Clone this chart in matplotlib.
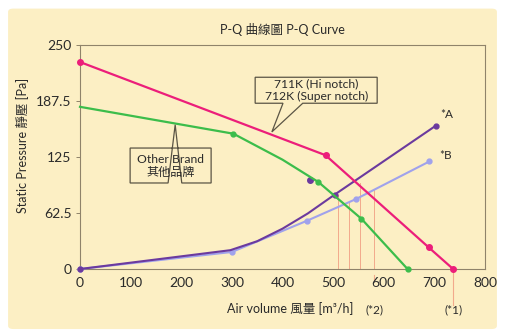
import matplotlib
matplotlib.use("Agg")
import matplotlib.pyplot as plt
from matplotlib.patches import FancyBboxPatch, Polygon

FONT = ['Lato', 'Noto Sans CJK TC', 'DejaVu Sans']
plt.rcParams['font.family'] = FONT

# --- data ---
brand_x = [0, 485, 689, 737]
brand_y = [231, 127, 24, 0]

other_x = [0, 303, 400, 471, 556, 647]
other_y = [181, 151, 122, 97, 56, 0]
other_marks = [1, 3, 4, 5]

curveA_x = [0, 297, 350, 400, 450, 503, 703]
curveA_y = [0, 21, 31, 45, 62, 83, 160]
curveA_marks = [0, 5, 6]
extraA = (454, 99)

curveB_x = [0, 300, 449, 545, 690]
curveB_y = [0, 19, 54, 78, 120]

guide_x = [509, 532, 554, 581]
guide_top = [83, 74, 96, 88]

xticks = [0, 100, 200, 300, 400, 500, 600, 700, 800]
yticks = [0, 62.5, 125, 187.5, 250]
ytick_labels = ['0', '62.5', '125', '187.5', '250']

PINK = '#EC1E7A'
GREEN = '#3CBD4B'
PURPLE = '#6B3A9E'
LBLUE = '#A0A2EC'
CREAM = '#FCEFC4'
EDGE = '#8F836A'
GUIDE = '#F2A98C'
TXT = '#2a2a2a'

fig = plt.figure(figsize=(5.05, 3.31), dpi=100)
fig.patch.set_facecolor('white')
bg = FancyBboxPatch((0.016, 0.006), 0.968, 0.968, boxstyle='round,pad=0,rounding_size=0.01',
                    transform=fig.transFigure, facecolor=CREAM, edgecolor='none', zorder=-10)
fig.patches.append(bg)

ax = fig.add_axes([80/505, 1-269/331, 405/505, 224/331])
ax.set_zorder(1)
ax.set_facecolor(CREAM)
ax.set_xlim(0, 800)
ax.set_ylim(0, 250)

for s in ax.spines.values():
    s.set_color(EDGE)
    s.set_linewidth(0.8)

# guide lines
for gx, gt in zip(guide_x, guide_top):
    ax.plot([gx, gx], [0, gt], color=GUIDE, lw=0.7, zorder=1)
ax.plot([brand_x[-1], brand_x[-1]], [0, -40], color=GUIDE, lw=0.8, clip_on=False, zorder=1)
ax.plot([guide_x[-1], guide_x[-1]], [-7, -12], color=GUIDE, lw=0.8, clip_on=False, zorder=1)

ax.plot(curveB_x, curveB_y, color=LBLUE, lw=1.5, marker='o', ms=3.5, zorder=3, clip_on=False)
ax.plot(curveA_x, curveA_y, color=PURPLE, lw=1.5, marker='o', ms=3.5,
        markevery=curveA_marks, zorder=4, clip_on=False)
ax.plot([extraA[0]], [extraA[1]], 'o', color=PURPLE, ms=4, zorder=4)
ax.plot(other_x, other_y, color=GREEN, lw=1.6, marker='o', ms=3.5,
        markevery=other_marks, zorder=4, clip_on=False)
ax.plot(brand_x, brand_y, color=PINK, lw=1.6, marker='o', ms=4, zorder=5, clip_on=False)

ax.set_xticks(xticks)
ax.set_xticklabels([str(v) for v in xticks])
ax.set_yticks(yticks)
ax.set_yticklabels(ytick_labels)
ax.tick_params(axis='x', length=0, pad=6, labelsize=10, colors=TXT)
ax.tick_params(axis='y', length=3, width=0.7, color=EDGE, pad=3, labelsize=10, colors=TXT)

ax.set_title('P-Q 曲線圖 P-Q Curve', fontsize=9, color=TXT, pad=8)
ax.set_xlabel('Air volume 風量 [m³/h]', fontsize=9, color=TXT)
ax.set_ylabel('Static Pressure 靜壓 [Pa]', fontsize=9, color=TXT)
ax.yaxis.set_label_coords(-0.128, 0.553)
ax.xaxis.set_label_coords(0.52, -0.147)

ax.text(711, 166, '*A', fontsize=8.5, color=TXT, ha='left', va='bottom')
ax.text(710, 121, '*B', fontsize=8.5, color=TXT, ha='left', va='bottom')
ax.text(581, -46, '(*2)', fontsize=8.5, color=TXT, ha='center', va='center', clip_on=False)
ax.text(737, -46, '(*1)', fontsize=8.5, color=TXT, ha='center', va='center', clip_on=False)

# callout bubbles (speech boxes)
def bubble(x0, x1, y0, y1, bx0, bx1, tip, lines):
    pts = [(x0, y0), (bx0, y0), tip, (bx1, y0), (x1, y0), (x1, y1), (x0, y1)]
    ax.add_patch(Polygon(pts, closed=True, facecolor=CREAM, edgecolor='#5b5545',
                         lw=0.9, zorder=6, clip_on=False))
    ax.text((x0 + x1) / 2, (y0 + y1) / 2, lines, ha='center', va='center',
            fontsize=8.7, color=TXT, zorder=7, linespacing=1.2)

bubble(346, 587, 185, 214, 401, 440, (379, 153), '711K (Hi notch)\n712K (Super notch)')
bubble(99, 259, 96, 135, 174, 201, (188, 161), 'Other Brand\n其他品牌')

fig.savefig('out.png', dpi=100, facecolor='white')
